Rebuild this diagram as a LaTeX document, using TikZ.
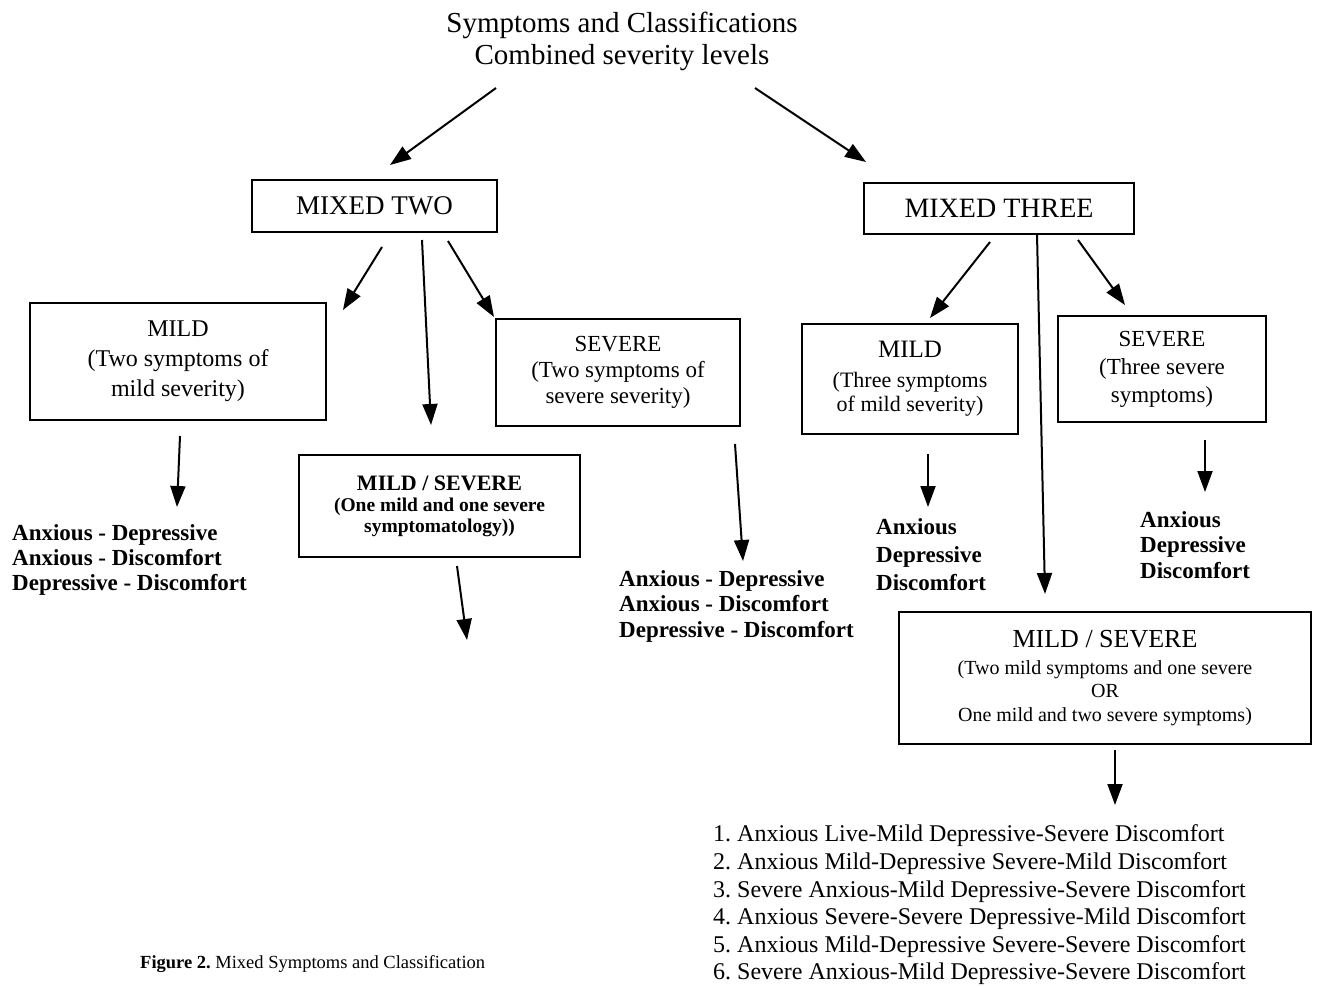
\documentclass[tikz,border=0pt]{standalone}
\usepackage{fontspec}
\setmainfont{Liberation Serif}
\usetikzlibrary{arrows.meta,calc}
\newcommand{\fs}[2]{\fontsize{#1}{#2}\selectfont}
\frenchspacing
\tikzset{
  box/.style={draw, line width=2pt, inner sep=0pt, align=center},
  plain/.style={inner sep=0pt, align=left, anchor=west},
  arr/.style={line width=2pt, -{Triangle[length=21pt,width=15pt]}}
}
\begin{document}
\frenchspacing
\begin{tikzpicture}[x=1pt,y=-1pt]
\useasboundingbox (0,0) rectangle (1319,987);
% title
\node[inner sep=0pt, align=center, font=\fs{29}{32}] (T) at (622,41) {Symptoms and Classifications\\Combined severity levels};
% level 1
\node[box, minimum width=245pt, minimum height=52pt, font=\fs{27}{30}] (m2) at (374.5,206) {MIXED TWO};
\node[box, minimum width=270pt, minimum height=51pt, font=\fs{28}{30}] (m3) at (999,208.5) {MIXED THREE};
% level 2 left
\node[box, minimum width=296pt, minimum height=117pt, font=\fs{24}{30}] (mild2) at (178,361.5) {MILD\\(Two symptoms of\\mild severity)};
\node[box, minimum width=244pt, minimum height=107pt, font=\fs{23}{26}] (sev2) at (618,372.5) {SEVERE\\(Two symptoms of\\severe severity)};
\node[box, minimum width=281pt, minimum height=102pt, font=\fs{19.5}{21}\bfseries] (ms2) at (439.5,506) {\fs{22}{26}MILD / SEVERE\\[0pt](One mild and one severe\\symptomatology))};
% level 2 right
\node[box, minimum width=216pt, minimum height=110pt, font=\fs{22}{24}] (mild3) at (910,379) {\fs{25}{30}MILD\\[6pt](Three symptoms\\of mild severity)};
\node[box, minimum width=208pt, minimum height=106pt, font=\fs{23}{28}] (sev3) at (1162,369) {SEVERE\\(Three severe\\symptoms)};
\node[box, minimum width=412pt, minimum height=132pt, font=\fs{20}{23.5}] (ms3) at (1105,678) {\fs{26}{28}MILD / SEVERE\\[3pt](Two mild symptoms and one severe\\OR\\One mild and two severe symptoms)};
% lists
\node[plain, font=\fs{23}{25}\bfseries] (L1) at (12,560) {Anxious - Depressive\\Anxious - Discomfort\\Depressive - Discomfort};
\node[plain, font=\fs{23}{25.5}\bfseries] (L2) at (619,606) {Anxious - Depressive\\Anxious - Discomfort\\Depressive - Discomfort};
\node[plain, font=\fs{23}{28}\bfseries] (L3) at (876,555) {Anxious\\Depressive\\Discomfort};
\node[plain, font=\fs{23}{25.5}\bfseries] (L4) at (1140,545) {Anxious\\Depressive\\Discomfort};
\node[plain, font=\fs{24}{27.6}] (L5) at (713,905) {1. Anxious Live-Mild Depressive-Severe Discomfort\\2. Anxious Mild-Depressive Severe-Mild Discomfort\\3. Severe Anxious-Mild Depressive-Severe Discomfort\\4. Anxious Severe-Severe Depressive-Mild Discomfort\\5. Anxious Mild-Depressive Severe-Severe Discomfort\\6. Severe Anxious-Mild Depressive-Severe Discomfort};
\node[plain, font=\fs{18.5}{22}] (cap) at (140,964) {\textbf{Figure 2.} Mixed Symptoms and Classification};
\coordinate (e10) at (467,640);
% arrows
\draw[arr] ($(T)+(-126,47)$) -- ($(m2)+(15.5,-41)$);
\draw[arr] ($(T)+(133,47)$) -- ($(m3)+(-133,-46.5)$);
\draw[arr] ($(m2)+(7.5,41)$) -- ($(mild2)+(165,-51.5)$);
\draw[arr] ($(m2)+(47.5,34)$) -- ($(ms2)+(-8.5,-81)$);
\draw[arr] ($(m2)+(73.5,35)$) -- ($(sev2)+(-124,-55.5)$);
\draw[arr] ($(m3)+(-9,33.5)$) -- ($(mild3)+(20,-61)$);
\draw[arr] ($(m3)+(38,25.5)$) -- ($(ms3)+(-60,-84)$);
\draw[arr] ($(m3)+(79,31.5)$) -- ($(sev3)+(-37,-64)$);
\draw[arr] ($(mild2)+(2,74.5)$) -- ($(L1.west)+(165,-53)$);
\draw[arr] ($(ms2)+(17.5,60)$) -- (e10);
\draw[arr] ($(sev2)+(117,71.5)$) -- ($(L2.west)+(124,-45)$);
\draw[arr] ($(mild3)+(18,75)$) -- ($(L3.west)+(52,-48)$);
\draw[arr] ($(sev3)+(43,71)$) -- ($(L4.west)+(65,-53)$);
\draw[arr] ($(ms3)+(10,72)$) -- ($(L5.west)+(402,-100)$);
\end{tikzpicture}
\end{document}
